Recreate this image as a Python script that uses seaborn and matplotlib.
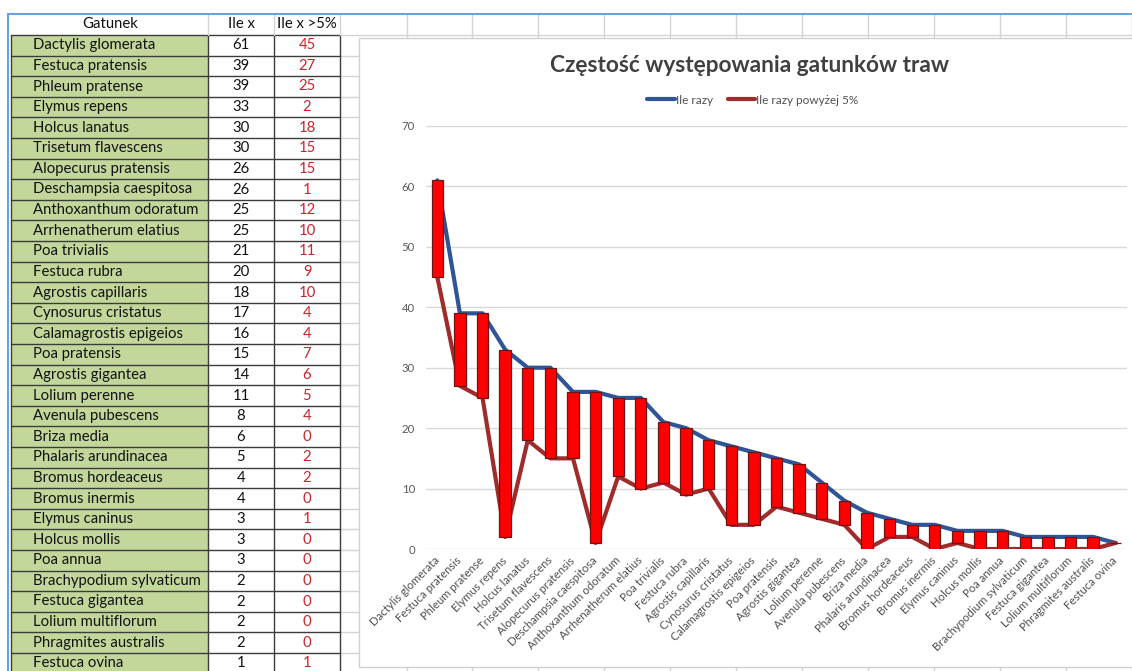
import matplotlib
matplotlib.use("Agg")
import matplotlib.pyplot as plt
import seaborn as sns
import pandas as pd
import numpy as np
from matplotlib.lines import Line2D

# ---------------- data ----------------
species = [
    "Dactylis glomerata", "Festuca pratensis", "Phleum pratense", "Elymus repens",
    "Holcus lanatus", "Trisetum flavescens", "Alopecurus pratensis",
    "Deschampsia caespitosa", "Anthoxanthum odoratum", "Arrhenatherum elatius",
    "Poa trivialis", "Festuca rubra", "Agrostis capillaris", "Cynosurus cristatus",
    "Calamagrostis epigeios", "Poa pratensis", "Agrostis gigantea", "Lolium perenne",
    "Avenula pubescens", "Briza media", "Phalaris arundinacea", "Bromus hordeaceus",
    "Bromus inermis", "Elymus caninus", "Holcus mollis", "Poa annua",
    "Brachypodium sylvaticum", "Festuca gigantea", "Lolium multiflorum",
    "Phragmites australis", "Festuca ovina",
]
ile_razy = [61, 39, 39, 33, 30, 30, 26, 26, 25, 25, 21, 20, 18, 17, 16, 15, 14, 11,
            8, 6, 5, 4, 4, 3, 3, 3, 2, 2, 2, 2, 1]
ile_5 = [45, 27, 25, 2, 18, 15, 15, 1, 12, 10, 11, 9, 10, 4, 4, 7, 6, 5,
         4, 0, 2, 2, 0, 1, 0, 0, 0, 0, 0, 0, 1]
header = ["Gatunek", "Ile x", "Ile x >5%"]
series_names = ["Ile razy", "Ile razy powyżej 5%"]
title = "Częstość występowania gatunków traw"
yticks = [0, 10, 20, 30, 40, 50, 60, 70]

# ---------------- style ----------------
sns.set_theme(style="white")
FONT = ["Lato", "DejaVu Sans"]
plt.rcParams["font.family"] = FONT

W, H = 1132, 671
fig = plt.figure(figsize=(W / 100, H / 100), dpi=100)

# background "spreadsheet" layer in pixel coordinates
bg = fig.add_axes([0, 0, 1, 1])
bg.set_xlim(0, W)
bg.set_ylim(H, 0)
bg.axis("off")

rh = 20.6
hdr_top, hdr_bot = 14, 35
n = len(species)
cell_grid = "#d4d4d4"
dark = "#3c3c3c"

# spreadsheet cell grid to the right of the table
col_lines = [340, 407, 472, 538, 604, 670, 736, 802, 868, 934, 1000, 1066, 1132]
for cx in col_lines[1:]:
    bg.plot([cx, cx], [hdr_top, H], color=cell_grid, lw=1, zorder=1)
row_lines = [hdr_bot + i * rh for i in range(n + 1)]
for ry in row_lines:
    bg.plot([340, W], [ry, ry], color=cell_grid, lw=1, zorder=1)

# chart panel (white)
panel = plt.Rectangle((359, 38), W - 359 + 5, 667 - 38, facecolor="white",
                      edgecolor="#d0d0d0", lw=1, zorder=2)
bg.add_patch(panel)

# table
green = "#c4d79b"
tfs = 10.7
for i in range(n):
    top = hdr_bot + i * rh
    bg.add_patch(plt.Rectangle((11, top), 208 - 11, rh, facecolor=green,
                               edgecolor="none", zorder=2))
    cy = top + rh / 2
    bg.text(33, cy, species[i], fontsize=tfs, color="#111111", va="center",
            ha="left", zorder=4)
    bg.text(241, cy, str(ile_razy[i]), fontsize=tfs, color="#111111",
            va="center", ha="center", zorder=4)
    bg.text(307, cy, str(ile_5[i]), fontsize=tfs, color="#c8252c",
            va="center", ha="center", zorder=4)
for ry in row_lines:
    bg.plot([11, 340], [ry, ry], color=dark, lw=1, zorder=3)
for cx in [11, 208, 274, 340]:
    bg.plot([cx, cx], [hdr_bot, H], color=dark, lw=1, zorder=3)
for cx in [208, 274, 340]:
    bg.plot([cx, cx], [hdr_top, hdr_bot], color=cell_grid, lw=1, zorder=3)
hy = (hdr_top + hdr_bot) / 2
bg.text(110, hy, header[0], fontsize=tfs, color="#111111", ha="center", va="center", zorder=4)
bg.text(241, hy, header[1], fontsize=tfs, color="#111111", ha="center", va="center", zorder=4)
bg.text(307, hy, header[2], fontsize=tfs, color="#111111", ha="center", va="center", zorder=4)

# blue selection border
bg.plot([8, W], [hdr_top, hdr_top], color="#6aa2dc", lw=1.5, zorder=5)
bg.plot([8, 8], [hdr_top, H], color="#6aa2dc", lw=1.5, zorder=5)

# ---------------- chart ----------------
ax_l, ax_r, ax_t, ax_b = 426, 1127, 126, 549
ax = fig.add_axes([ax_l / W, 1 - ax_b / H, (ax_r - ax_l) / W, (ax_b - ax_t) / H])
ax.patch.set_alpha(0)

pos = np.arange(n)
df = pd.DataFrame({
    "pos": np.concatenate([pos, pos]),
    "value": ile_razy + ile_5,
    "series": [series_names[0]] * n + [series_names[1]] * n,
})
blue = "#2f5597"
red_line = "#a02b2b"
sns.lineplot(data=df, x="pos", y="value", hue="series",
             palette={series_names[0]: blue, series_names[1]: red_line},
             linewidth=3, legend=False, ax=ax, zorder=2, sort=False)

low = np.minimum(ile_razy, ile_5)
high = np.maximum(ile_razy, ile_5)
ax.bar(pos, high - low, bottom=low, width=0.5, color="#ff0000",
       edgecolor="#6e1414", linewidth=0.9, zorder=3)

ax.set_xlim(-0.5, n - 0.5)
ax.set_ylim(0, 70)
ax.set_yticks(yticks)
ax.set_yticklabels([str(v) for v in yticks], fontsize=8.2, color="#595959")
ax.set_xticks(pos)
ax.set_xticklabels(species, rotation=45, ha="right", va="center",
                   rotation_mode="anchor", fontsize=8.2, color="#505050")
ax.tick_params(axis="both", length=0)
ax.tick_params(axis="y", pad=8)
ax.tick_params(axis="x", pad=7)
ax.grid(axis="y", color="#d9d9d9", lw=1)
ax.set_axisbelow(True)
ax.set_xlabel("")
ax.set_ylabel("")
for s in ax.spines.values():
    s.set_visible(False)

fig.text(750 / W, 1 - 65 / H, title, fontsize=16.3, fontweight="bold",
         color="#404040", ha="center", va="center")

handles = [Line2D([], [], color=blue, lw=3), Line2D([], [], color=red_line, lw=3)]
ax.legend(handles, series_names, loc="center", ncol=2, frameon=False,
          bbox_to_anchor=(753 / W, 1 - 100 / H), bbox_transform=fig.transFigure,
          fontsize=8.5, labelcolor="#505050", handlelength=2.3,
          handletextpad=0.1, columnspacing=1.3)

fig.savefig("out.png", dpi=100)
